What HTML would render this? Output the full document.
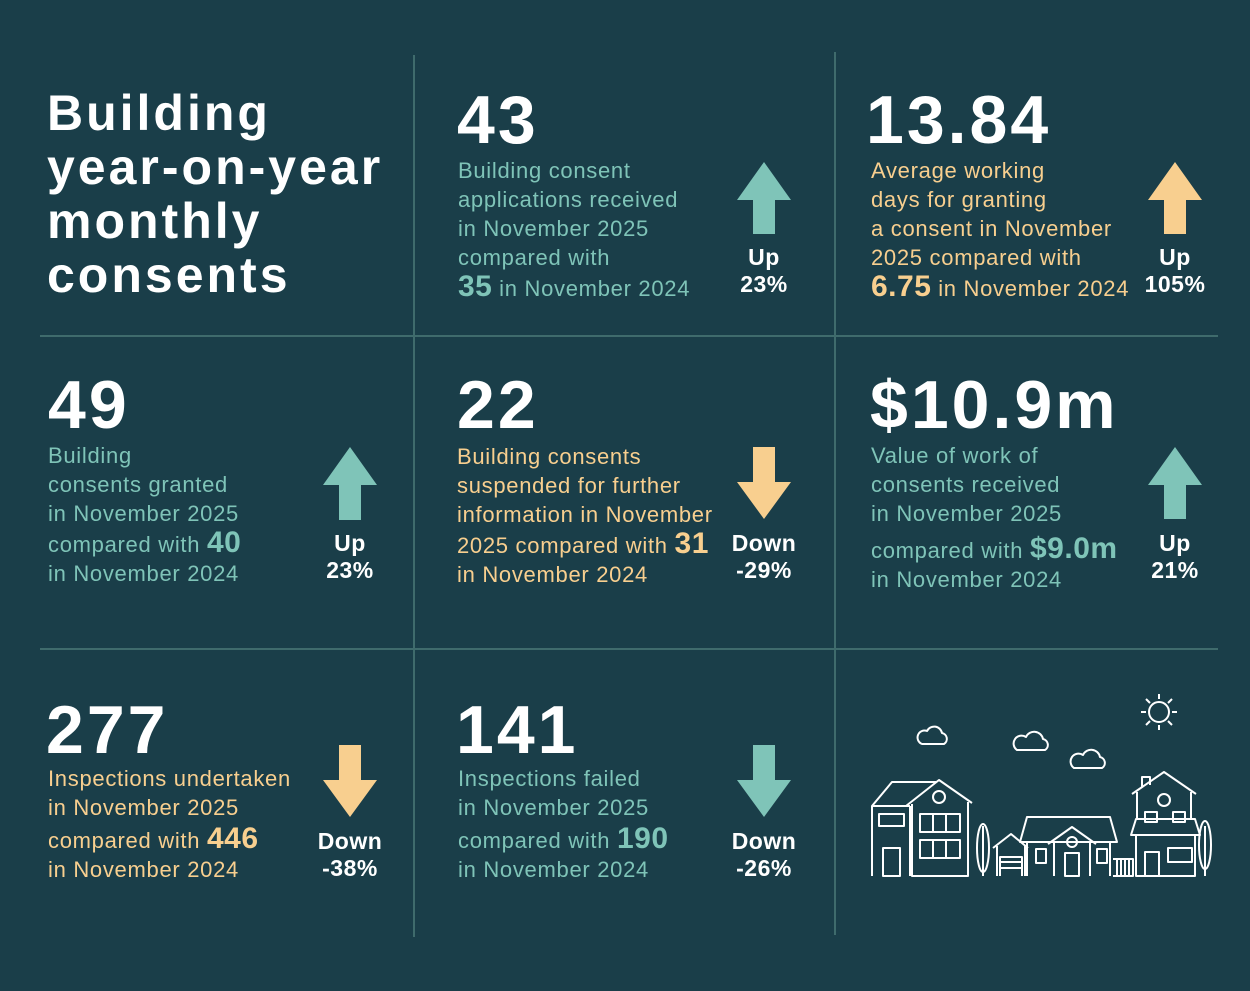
<!DOCTYPE html>
<html><head><meta charset="utf-8"><style>
body{margin:0;width:1250px;height:991px;background:#1a3e49;overflow:hidden;font-family:"Liberation Sans",sans-serif;position:relative}
div{position:absolute;white-space:nowrap}
.big{font-weight:bold;font-size:68px;line-height:68px;color:#fff;letter-spacing:3px}
.b{font-size:22px;line-height:29px;letter-spacing:0.7px}
.t{color:#7fc4b8}.y{color:#f8cf8f}
.e{font-weight:bold;font-size:30px;letter-spacing:0.5px}
.l{font-weight:bold;font-size:23px;line-height:27px;color:#fff;text-align:center;width:120px;letter-spacing:0.5px}
.vl{width:2px;background:#3f6b6c}.hl{height:2px;background:#3f6b6c}
</style></head><body>
<div class="vl" style="left:413px;top:55px;height:882px"></div>
<div class="vl" style="left:834px;top:52px;height:883px"></div>
<div class="hl" style="left:40px;top:335px;width:1178px"></div>
<div class="hl" style="left:40px;top:648px;width:1178px"></div>

<div style="left:47px;top:86px;font-weight:bold;font-size:50px;line-height:54px;color:#fff;letter-spacing:3px">Building<br>year-on-year<br>monthly<br>consents</div>

<div class="big" style="left:457px;top:86px">43</div>
<div class="b t" style="left:458px;top:156px">Building consent<br>applications received<br>in November 2025<br>compared with<br><b class="e">35</b> in November 2024</div>
<div class="l" style="left:704px;top:244px">Up<br>23%</div>

<div class="big" style="left:866px;top:86px">13.84</div>
<div class="b y" style="left:871px;top:156px">Average working<br>days for granting<br>a consent in November<br>2025 compared with<br><b class="e">6.75</b> in November 2024</div>
<div class="l" style="left:1115px;top:244px">Up<br>105%</div>

<div class="big" style="left:48px;top:371px">49</div>
<div class="b t" style="left:48px;top:441px">Building<br>consents granted<br>in November 2025<br>compared with <b class="e">40</b><br>in November 2024</div>
<div class="l" style="left:290px;top:530px">Up<br>23%</div>

<div class="big" style="left:457px;top:371px">22</div>
<div class="b y" style="left:457px;top:442px">Building consents<br>suspended for further<br>information in November<br>2025 compared with <b class="e">31</b><br>in November 2024</div>
<div class="l" style="left:704px;top:530px">Down<br>-29%</div>

<div class="big" style="left:870px;top:371px">$10.9m</div>
<div class="b t" style="left:871px;top:441px">Value of work of<br>consents received<br>in November 2025<br><span style="display:inline-block;margin-top:6px">compared with <b class="e">$9.0m</b></span><br>in November 2024</div>
<div class="l" style="left:1115px;top:530px">Up<br>21%</div>

<div class="big" style="left:46px;top:696px">277</div>
<div class="b y" style="left:48px;top:764px">Inspections undertaken<br>in November 2025<br><span style="display:inline-block;margin-top:2px">compared with <b class="e">446</b></span><br>in November 2024</div>
<div class="l" style="left:290px;top:828px">Down<br>-38%</div>

<div class="big" style="left:456px;top:696px">141</div>
<div class="b t" style="left:458px;top:764px">Inspections failed<br>in November 2025<br><span style="display:inline-block;margin-top:2px">compared with <b class="e">190</b></span><br>in November 2024</div>
<div class="l" style="left:704px;top:828px">Down<br>-26%</div>

<svg width="1250" height="991" style="position:absolute;left:0;top:0">
<g fill="#7fc4b8">
<polygon points="764,162 791,200 775,200 775,234 753,234 753,200 737,200"/>
<polygon points="350,447 377,485 361,485 361,520 339,520 339,485 323,485"/>
<polygon points="1175,447 1202,485 1186,485 1186,519 1164,519 1164,485 1148,485"/>
<polygon points="764,817 791,780 775,780 775,745 753,745 753,780 737,780"/>
</g>
<g fill="#f8cf8f">
<polygon points="1175,162 1202,200 1186,200 1186,234 1164,234 1164,200 1148,200"/>
<polygon points="764,519 791,482 775,482 775,447 753,447 753,482 737,482"/>
<polygon points="350,817 377,780 361,780 361,745 339,745 339,780 323,780"/>
</g>
<g fill="none" stroke="#fff" stroke-width="2" stroke-linejoin="round">
<circle cx="1159" cy="712" r="10"/>
<path d="M1159,694v5M1159,725v5M1141,712h5M1172,712h5M1146,699l4,4M1168,721l4,4M1146,725l4,-4M1168,703l4,-4"/>
<path d="M922,744h22a6,6 0 0 0 -2,-11a8,8 0 0 0 -15,-2a6,6 0 0 0 -5,13z"/>
<path d="M1017,750h28a6,6 0 0 0 -2,-11a9,9 0 0 0 -17,-2a6,6 0 0 0 -9,13z"/>
<path d="M1074,768h28a6,6 0 0 0 -2,-11a9,9 0 0 0 -17,-2a6,6 0 0 0 -9,13z"/>
<path d="M872,876V806h38M872,806L892,782H936M910,876V806"/>
<polyline points="906,806 939,780 972,803"/>
<path d="M912,804V876H968V802"/>
<circle cx="939" cy="797" r="6"/>
<rect x="879" y="814" width="25" height="12"/><rect x="883" y="848" width="17" height="28"/>
<rect x="920" y="814" width="40" height="18"/><rect x="920" y="840" width="40" height="18"/>
<path d="M933,814v18M946,814v18M933,840v18M946,840v18"/>
<path d="M983,876v-50"/><ellipse cx="983" cy="848" rx="6" ry="24"/>
<polyline points="993,848 1011,834 1028,848"/>
<path d="M997,876V846M1025,876V846M1000,876v-19h22v19M1000,862h22M1000,868h22"/>
<path d="M1020,842L1027,817H1110L1117,842ZM1027,842V876M1110,842V876M1054,842V876M1090,842V876"/>
<polyline points="1048,844 1072,827 1096,844"/>
<circle cx="1072" cy="842" r="5"/>
<rect x="1036" y="849" width="10" height="14"/><rect x="1097" y="849" width="10" height="14"/><rect x="1065" y="853" width="14" height="23"/>
<path d="M1113,859h20v17h-20M1117,859v17M1121,859v17M1125,859v17M1129,859v17"/>
<polyline points="1132,794 1164,772 1196,794"/>
<path d="M1137,792V819M1191,792V819M1131,835L1136,819H1195L1200,835ZM1136,835V876H1195V835M1142,787V777h8v8"/>
<circle cx="1164" cy="800" r="6"/>
<rect x="1145" y="812" width="12" height="10"/><rect x="1173" y="812" width="12" height="10"/>
<rect x="1145" y="852" width="14" height="24"/><rect x="1168" y="848" width="24" height="14"/>
<path d="M1205,876v-50"/><ellipse cx="1205" cy="845" rx="6" ry="24"/>
</g>
</svg>
</body></html>
